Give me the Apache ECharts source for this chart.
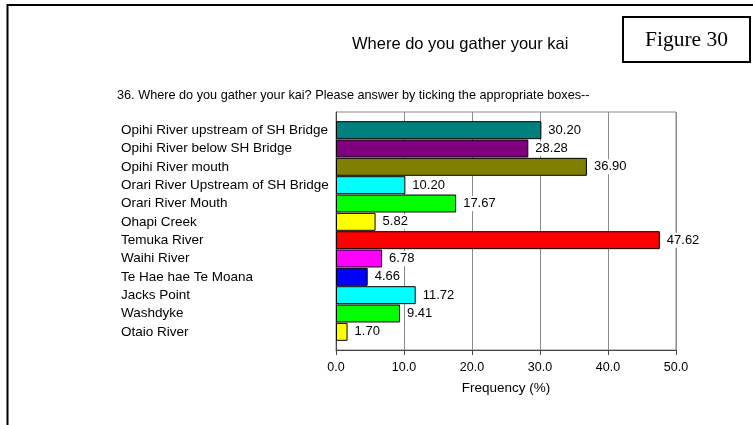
<!DOCTYPE html>
<html>
<head>
<meta charset="utf-8">
<script src="https://cdn.jsdelivr.net/npm/echarts@6/dist/echarts.min.js"></script>
<style>
  html, body { margin: 0; padding: 0; background: #fff; }
  #chart { width: 753px; height: 425px; }
</style>
</head>
<body>
<div id="chart"></div>
<script>
// Survey question 36: where respondents gather kai
const categories = [
  'Opihi River upstream of SH Bridge',
  'Opihi River below SH Bridge',
  'Opihi River mouth',
  'Orari River Upstream of SH Bridge',
  'Orari River Mouth',
  'Ohapi Creek',
  'Temuka River',
  'Waihi River',
  'Te Hae hae Te Moana',
  'Jacks Point',
  'Washdyke',
  'Otaio River'
];
const frequencies = [30.20, 28.28, 36.90, 10.20, 17.67, 5.82, 47.62, 6.78, 4.66, 11.72, 9.41, 1.70];
const barColors = ['#007F7F', '#7F007F', '#7F7F00', '#00FFFF', '#00FF00', '#FFFF00',
                   '#FF0000', '#FF00FF', '#0000FF', '#00FFFF', '#00FF00', '#FFFF00'];
const xTicks = { min: 0, max: 50, interval: 10 };

const FONT = '"Liberation Sans", Arial, sans-serif';
const chart = echarts.init(document.getElementById('chart'), null, { renderer: 'canvas' });

const plotLeft = 336, plotRight = 77;

chart.setOption({
  animation: false,
  backgroundColor: '#fff',
  title: [
    {
      text: 'Where do you gather your kai',
      left: 347, top: 31,
      textStyle: { fontFamily: FONT, fontSize: 16.5, fontWeight: 'normal', color: '#000' }
    },
    {
      text: '36. Where do you gather your kai? Please answer by ticking the appropriate boxes--',
      left: 112, top: 84,
      textStyle: { fontFamily: FONT, fontSize: 12.7, fontWeight: 'normal', color: '#000' }
    }
  ],
  graphic: [
    // page frame
    { type: 'rect', shape: { x: 7.5, y: 5, width: 800, height: 500 },
      style: { fill: 'none', stroke: '#000', lineWidth: 2 }, z: 100 },
    // figure number box
    { type: 'rect', shape: { x: 623, y: 17, width: 127, height: 45 },
      style: { fill: '#fff', stroke: '#000', lineWidth: 2 }, z: 100 },
    { type: 'text', x: 686.5, y: 40, z: 101,
      style: { text: 'Figure 30', fill: '#000', fontFamily: '"Liberation Serif", "Times New Roman", serif',
               fontSize: 21.5, align: 'center', verticalAlign: 'middle' } }
  ],
  grid: [
    // frame with gridlines and frequency axis
    { left: plotLeft, right: plotRight, top: 112, height: 238,
      show: true, borderColor: '#8a8a8a', borderWidth: 1, backgroundColor: 'transparent' },
    // bars, inset from the frame
    { left: plotLeft, right: plotRight, top: 121, height: 220 }
  ],
  xAxis: [
    {
      gridIndex: 0, type: 'value', min: xTicks.min, max: xTicks.max, interval: xTicks.interval,
      axisLine: { show: true, lineStyle: { color: '#444', width: 1 } },
      axisTick: { show: true, length: 5, lineStyle: { color: '#444' } },
      axisLabel: { fontFamily: FONT, fontSize: 12.5, color: '#000', margin: 11,
                   formatter: v => v.toFixed(1) },
      splitLine: { show: true, lineStyle: { color: '#8a8a8a', width: 1 } },
      name: 'Frequency (%)', nameLocation: 'middle', nameGap: 31,
      nameTextStyle: { fontFamily: FONT, fontSize: 13.5, color: '#000' }
    },
    {
      gridIndex: 1, type: 'value', min: xTicks.min, max: xTicks.max, show: false,
      splitLine: { show: false }
    }
  ],
  yAxis: [
    { gridIndex: 0, type: 'value', min: 0, max: 1, show: true,
      axisLine: { show: true, lineStyle: { color: '#444' } },
      axisTick: { show: false }, axisLabel: { show: false }, splitLine: { show: false } },
    {
      gridIndex: 1, type: 'category', data: categories, inverse: true,
      axisLine: { show: false }, axisTick: { show: false },
      axisLabel: { fontFamily: FONT, fontSize: 13.5, color: '#000', align: 'left',
                   margin: plotLeft - 121 }
    }
  ],
  series: [{
    type: 'bar',
    xAxisIndex: 1, yAxisIndex: 1,
    barCategoryGap: '2%',
    data: frequencies.map((v, i) => ({
      value: v,
      itemStyle: { color: barColors[i], borderColor: '#000', borderWidth: 1 }
    })),
    label: {
      show: true, position: 'right', distance: 5,
      formatter: p => p.value.toFixed(2),
      fontFamily: FONT, fontSize: 13, color: '#000',
      backgroundColor: '#fff', padding: [1, 2]
    },
    z: 3
  }]
});
</script>
</body>
</html>
